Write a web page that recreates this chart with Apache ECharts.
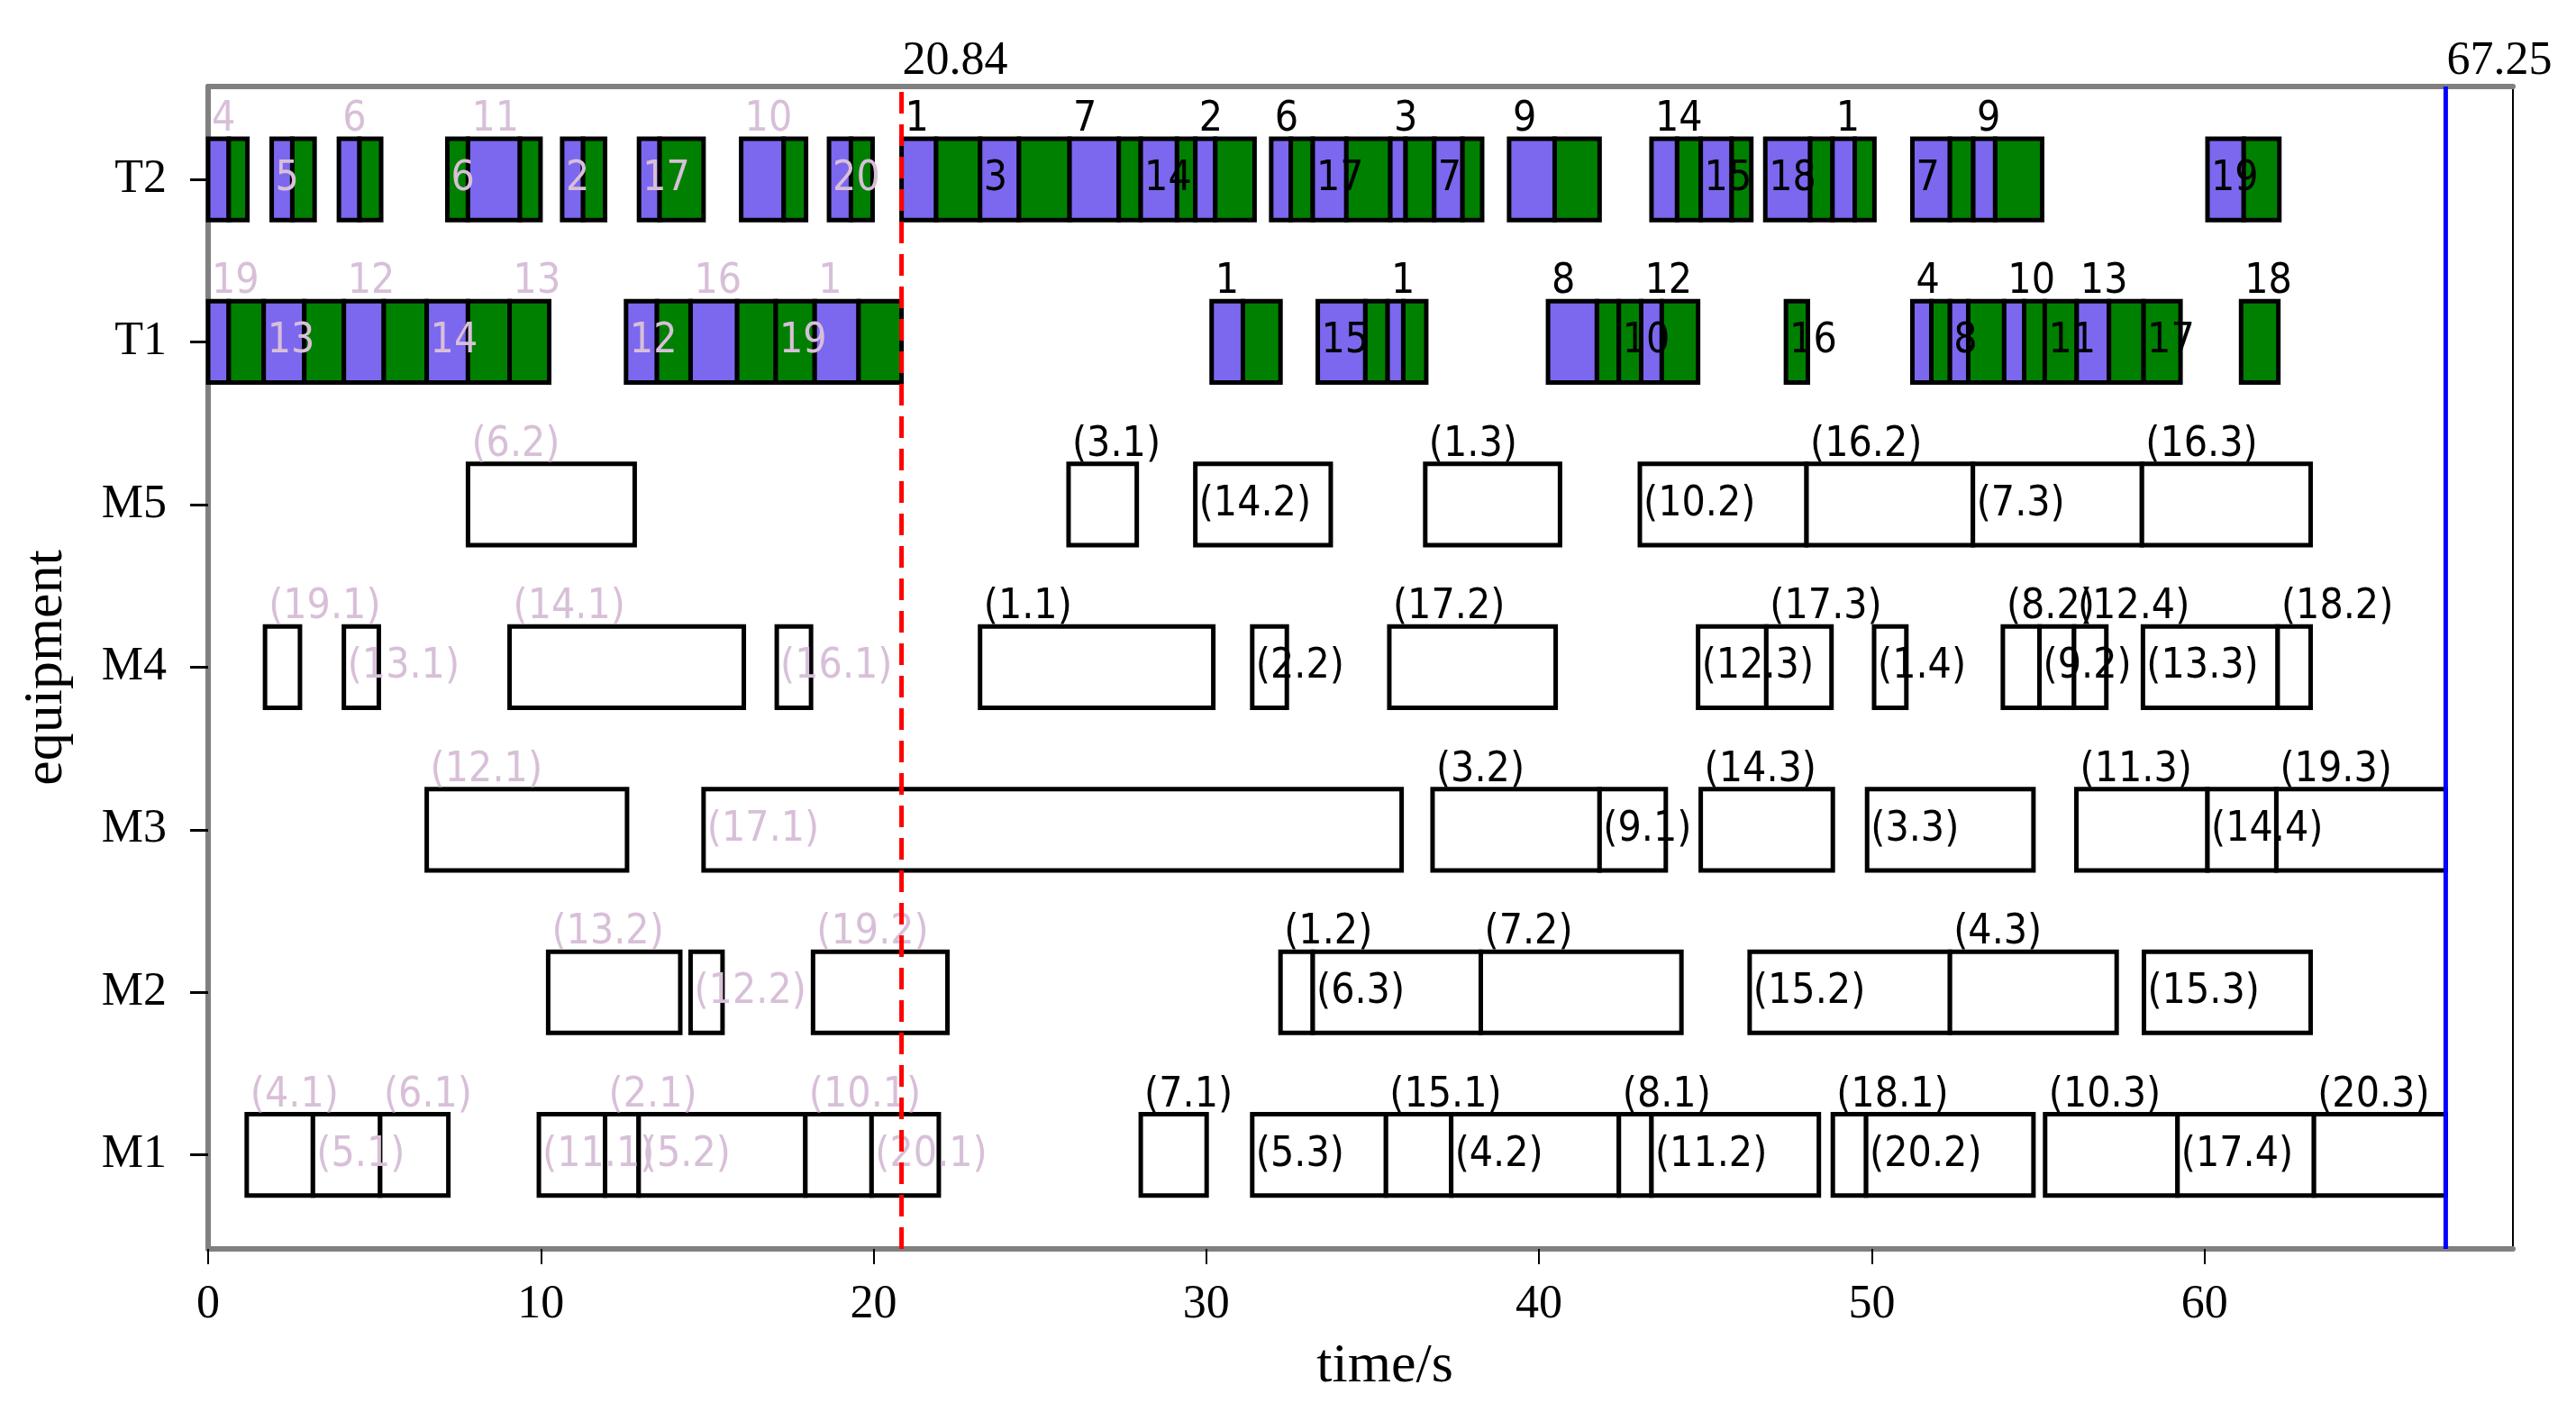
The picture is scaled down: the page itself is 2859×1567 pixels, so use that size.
<!DOCTYPE html>
<html>
<head>
<meta charset="utf-8">
<script src="https://cdn.jsdelivr.net/npm/echarts@6/dist/echarts.min.js"></script>
<style>
html,body{margin:0;padding:0;background:#fff;}
#chart{width:2859px;height:1567px;}
</style>
</head>
<body>
<div id="chart"></div>
<script>
// ---------------- data ----------------
const rowNames = ['M1', 'M2', 'M3', 'M4', 'M5', 'T1', 'T2'];
const xTicks = [0, 10, 20, 30, 40, 50, 60];
const rowTicks = [0, 1, 2, 3, 4, 5, 6];
const xMax = 69.27;
const cutTime = 20.84;
const makespan = 67.25;

// [start, end, kind, label, labelPlace]  kind: E=empty move, L=loaded move, M=machining
const T2 = [
  [0, 0.62, 'E', '4', 'a'], [0.62, 1.18, 'L'],
  [1.91, 2.53, 'E', '5', 'i'], [2.53, 3.20, 'L'],
  [3.93, 4.55, 'E', '6', 'a'], [4.55, 5.20, 'L'],
  [7.19, 7.81, 'L', '6', 'i'], [7.81, 9.37, 'E', '11', 'a'], [9.37, 9.99, 'L'],
  [10.64, 11.27, 'E', '2', 'i'], [11.27, 11.93, 'L'],
  [12.95, 13.57, 'E', '17', 'i'], [13.57, 14.89, 'L'],
  [16.02, 17.30, 'E', '10', 'a'], [17.30, 17.97, 'L'],
  [18.66, 19.32, 'E', '20', 'i'], [19.32, 19.97, 'L'],
  [20.84, 21.88, 'E', '1', 'a'], [21.88, 23.20, 'L'],
  [23.20, 24.37, 'E', '3', 'i'], [24.37, 25.89, 'L'],
  [25.89, 27.37, 'E', '7', 'a'], [27.37, 28.03, 'L'],
  [28.03, 29.12, 'E', '14', 'i'], [29.12, 29.67, 'L'],
  [29.67, 30.27, 'E', '2', 'a'], [30.27, 31.45, 'L'],
  [31.95, 32.54, 'E', '6', 'a'], [32.54, 33.20, 'L'],
  [33.20, 34.21, 'E', '17', 'i'], [34.21, 35.53, 'L'],
  [35.53, 35.99, 'E', '3', 'a'], [35.99, 36.85, 'L'],
  [36.85, 37.70, 'E', '7', 'i'], [37.70, 38.29, 'L'],
  [39.10, 40.47, 'E', '9', 'a'], [40.47, 41.82, 'L'],
  [43.38, 44.15, 'E', '14', 'a'], [44.15, 44.86, 'L'],
  [44.86, 45.79, 'E', '15', 'i'], [45.79, 46.38, 'L'],
  [46.80, 48.15, 'E', '18', 'i'], [48.15, 48.82, 'L'],
  [48.82, 49.49, 'E', '1', 'a'], [49.49, 50.08, 'L'],
  [51.22, 52.35, 'E', '7', 'i'], [52.35, 53.05, 'L'],
  [53.05, 53.71, 'E', '9', 'a'], [53.71, 55.12, 'L'],
  [60.09, 61.18, 'E', '19', 'i'], [61.18, 62.25, 'L']
];
const T1 = [
  [0, 0.62, 'E', '19', 'a'], [0.62, 1.67, 'L'],
  [1.67, 2.89, 'E', '13', 'i'], [2.89, 4.08, 'L'],
  [4.08, 5.28, 'E', '12', 'a'], [5.28, 6.57, 'L'],
  [6.57, 7.81, 'E', '14', 'i'], [7.81, 9.06, 'L'],
  [9.06, 10.25, 'L', '13', 'a'],
  [12.56, 13.49, 'E', '12', 'i'], [13.49, 14.50, 'L'],
  [14.50, 15.90, 'E', '16', 'a'], [15.90, 17.06, 'L'],
  [17.06, 18.23, 'L', '19', 'i'],
  [18.23, 19.55, 'E', '1', 'a'], [19.55, 20.84, 'L'],
  [30.16, 31.10, 'E', '1', 'a'], [31.10, 32.23, 'L'],
  [33.35, 34.78, 'E', '15', 'i'], [34.78, 35.45, 'L'],
  [35.45, 35.92, 'E', '1', 'a'], [35.92, 36.61, 'L'],
  [40.27, 41.74, 'E', '8', 'a'], [41.74, 42.40, 'L'],
  [42.40, 43.07, 'L', '10', 'i'],
  [43.07, 43.69, 'E', '12', 'a'], [43.69, 44.78, 'L'],
  [47.42, 48.08, 'L', '16', 'i'],
  [51.22, 51.79, 'E', '4', 'a'], [51.79, 52.35, 'L'],
  [52.35, 52.90, 'E', '8', 'i'], [52.90, 53.98, 'L'],
  [53.98, 54.58, 'E', '10', 'a'], [54.58, 55.20, 'L'],
  [55.20, 56.16, 'L', '11', 'i'],
  [56.16, 57.13, 'E', '13', 'a'], [57.13, 58.17, 'L'],
  [58.17, 59.28, 'L', '17', 'i'],
  [61.10, 62.22, 'L', '18', 'a']
];
const M5 = [
  [7.81, 12.82, 'M', '(6.2)', 'a'],
  [25.86, 27.91, 'M', '(3.1)', 'a'],
  [29.67, 33.74, 'M', '(14.2)', 'i'],
  [36.58, 40.63, 'M', '(1.3)', 'a'],
  [43.03, 48.04, 'M', '(10.2)', 'i'],
  [48.04, 53.04, 'M', '(16.2)', 'a'],
  [53.04, 58.12, 'M', '(7.3)', 'i'],
  [58.12, 63.19, 'M', '(16.3)', 'a']
];
const M4 = [
  [1.71, 2.76, 'M', '(19.1)', 'a'],
  [4.08, 5.13, 'M', '(13.1)', 'i'],
  [9.06, 16.10, 'M', '(14.1)', 'a'],
  [17.09, 18.12, 'M', '(16.1)', 'i'],
  [23.20, 30.21, 'M', '(1.1)', 'a'],
  [31.38, 32.42, 'M', '(2.2)', 'i'],
  [35.50, 40.50, 'M', '(17.2)', 'a'],
  [44.78, 46.83, 'M', '(12.3)', 'i'],
  [46.83, 48.79, 'M', '(17.3)', 'a'],
  [50.07, 51.04, 'M', '(1.4)', 'i'],
  [53.94, 55.04, 'M', '(8.2)', 'a'],
  [55.04, 56.08, 'M', '(9.2)', 'i'],
  [56.08, 57.05, 'M', '(12.4)', 'a'],
  [58.15, 62.20, 'M', '(13.3)', 'i'],
  [62.20, 63.19, 'M', '(18.2)', 'a']
];
const M3 = [
  [6.57, 12.59, 'M', '(12.1)', 'a'],
  [14.89, 35.87, 'M', '(17.1)', 'i'],
  [36.80, 41.82, 'M', '(3.2)', 'a'],
  [41.82, 43.81, 'M', '(9.1)', 'i'],
  [44.86, 48.83, 'M', '(14.3)', 'a'],
  [49.86, 54.86, 'M', '(3.3)', 'i'],
  [56.15, 60.09, 'M', '(11.3)', 'a'],
  [60.09, 62.16, 'M', '(14.4)', 'i'],
  [62.16, 67.25, 'M', '(19.3)', 'a']
];
const M2 = [
  [10.22, 14.19, 'M', '(13.2)', 'a'],
  [14.50, 15.46, 'M', '(12.2)', 'i'],
  [18.18, 22.22, 'M', '(19.2)', 'a'],
  [32.23, 33.20, 'M', '(1.2)', 'a'],
  [33.20, 38.25, 'M', '(6.3)', 'i'],
  [38.25, 44.28, 'M', '(7.2)', 'a'],
  [46.33, 52.35, 'M', '(15.2)', 'i'],
  [52.35, 57.36, 'M', '(4.3)', 'a'],
  [58.18, 63.19, 'M', '(15.3)', 'i']
];
const M1 = [
  [1.16, 3.15, 'M', '(4.1)', 'a'],
  [3.15, 5.17, 'M', '(5.1)', 'i'],
  [5.17, 7.22, 'M', '(6.1)', 'a'],
  [9.94, 11.93, 'M', '(11.1)', 'i'],
  [11.93, 12.94, 'M', '(2.1)', 'a'],
  [12.94, 17.95, 'M', '(5.2)', 'i'],
  [17.95, 19.94, 'M', '(10.1)', 'a'],
  [19.94, 21.96, 'M', '(20.1)', 'i'],
  [28.03, 30.01, 'M', '(7.1)', 'a'],
  [31.38, 35.40, 'M', '(5.3)', 'i'],
  [35.40, 37.36, 'M', '(15.1)', 'a'],
  [37.36, 42.40, 'M', '(4.2)', 'i'],
  [42.40, 43.38, 'M', '(8.1)', 'a'],
  [43.38, 48.41, 'M', '(11.2)', 'i'],
  [48.83, 49.83, 'M', '(18.1)', 'a'],
  [49.83, 54.86, 'M', '(20.2)', 'i'],
  [55.21, 59.19, 'M', '(10.3)', 'a'],
  [59.19, 63.29, 'M', '(17.4)', 'i'],
  [63.29, 67.25, 'M', '(20.3)', 'a']
];

// ---------------- build ----------------
const rows = [M1, M2, M3, M4, M5, T1, T2];
const yMin = -0.578, yMax = 6.571;
const halfH = 0.25;
const fillOf = { E: '#7B68EE', L: '#008000', M: '#ffffff' };
const paleColor = '#d8bfd8';
const labelFont = '46px "Liberation Sans Narrow", "DejaVu Sans Condensed", "Arial Narrow", sans-serif';
const serif = '"Liberation Serif", "Times New Roman", serif';

const flat = [];
rows.forEach((arr, r) => arr.forEach(d => flat.push({ s: d[0], e: d[1], r: r, k: d[2], t: d[3], p: d[4] })));
const barData = flat.map(o => [o.s, o.e, o.r]);
const lab = flat.filter(o => o.t);
const labData = lab.map(o => [o.s, o.r]);

const chart = echarts.init(document.getElementById('chart'), null, { renderer: 'canvas' });

const option = {
  animation: false,
  backgroundColor: '#fff',
  grid: { left: 231, right: 70, top: 96, bottom: 181, containLabel: false },
  xAxis: [{
    type: 'value', min: 0, max: xMax, position: 'bottom',
    axisLine: { show: true, onZero: false, lineStyle: { color: '#808080', width: 6 } },
    axisTick: { show: true, customValues: xTicks, length: 17, lineStyle: { color: '#000', width: 2 } },
    axisLabel: { customValues: xTicks, margin: 36, fontFamily: serif, fontSize: 52, color: '#000' },
    splitLine: { show: false },
    name: 'time/s', nameLocation: 'middle', nameGap: 100,
    nameTextStyle: { fontFamily: serif, fontSize: 62, color: '#000', padding: [0, 0, 0, 54] }
  }, {
    type: 'value', min: 0, max: xMax, position: 'top',
    axisLine: { show: true, onZero: false, lineStyle: { color: '#808080', width: 6 } },
    axisTick: { show: false }, axisLabel: { show: false }, splitLine: { show: false }
  }],
  yAxis: [{
    type: 'value', min: yMin, max: yMax, position: 'left',
    axisLine: { show: true, onZero: false, lineStyle: { color: '#808080', width: 6 } },
    axisTick: { show: true, customValues: rowTicks, length: 20, lineStyle: { color: '#000', width: 3 } },
    axisLabel: { customValues: rowTicks, formatter: v => rowNames[Math.round(v)], margin: 46,
      fontFamily: serif, fontSize: 52, color: '#000' },
    splitLine: { show: false },
    name: 'equipment', nameLocation: 'middle', nameGap: 148, nameRotate: 90,
    nameTextStyle: { fontFamily: serif, fontSize: 62, color: '#000' }
  }, {
    type: 'value', min: yMin, max: yMax, position: 'right',
    axisLine: { show: true, onZero: false, lineStyle: { color: '#000', width: 2 } },
    axisTick: { show: false }, axisLabel: { show: false }, splitLine: { show: false }
  }],
  series: [{
    type: 'custom', name: 'bars', z: 3,
    data: barData,
    encode: { x: [0, 1], y: 2 },
    renderItem: function (params, api) {
      const o = flat[params.dataIndex];
      const p0 = api.coord([api.value(0), api.value(2) + halfH]);
      const p1 = api.coord([api.value(1), api.value(2) - halfH]);
      return {
        type: 'rect',
        shape: { x: p0[0], y: p0[1], width: p1[0] - p0[0], height: p1[1] - p0[1] },
        style: { fill: fillOf[o.k], stroke: '#000', lineWidth: 5 }
      };
    }
  }, {
    type: 'custom', name: 'labels', z: 4,
    data: labData,
    encode: { x: 0, y: 1 },
    renderItem: function (params, api) {
      const o = lab[params.dataIndex];
      const above = o.p === 'a';
      const pt = api.coord([api.value(0), api.value(1) + (above ? halfH : 0)]);
      return {
        type: 'text', x: pt[0] + 4, y: pt[1] + (above ? 2 : 0),
        style: { text: o.t, font: labelFont, fill: o.s < cutTime ? paleColor : '#000',
          align: 'left', verticalAlign: above ? 'bottom' : 'middle' }
      };
    }
  }, {
    type: 'custom', name: 'marks', z: 5,
    data: [[cutTime, 0], [makespan, 1]],
    encode: { x: 0 },
    renderItem: function (params, api) {
      const t = api.value(0);
      const dashed = params.dataIndex === 0;
      const pb = api.coord([t, yMin]);
      const pt = api.coord([t, yMax]);
      return {
        type: 'group',
        children: [{
          type: 'line',
          shape: { x1: pb[0], y1: pb[1], x2: pt[0], y2: pt[1] },
          style: { stroke: dashed ? '#ff0000' : '#0000ff', lineWidth: 5, lineDash: dashed ? [24, 12] : null }
        }, {
          type: 'text', x: pt[0] + 1, y: pt[1] - 2,
          style: { text: t.toFixed(2), font: '52px ' + serif, fill: '#000', align: 'left', verticalAlign: 'bottom' }
        }]
      };
    }
  }]
};
chart.setOption(option);
</script>
</body>
</html>
